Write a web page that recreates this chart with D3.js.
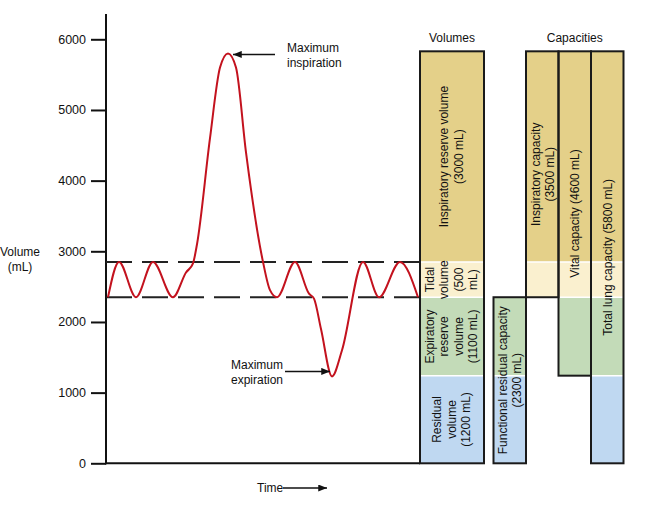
<!DOCTYPE html>
<html>
<head>
<meta charset="utf-8">
<script src="https://cdn.jsdelivr.net/npm/d3@7"></script>
<style>
  body { margin: 0; background: #fff; }
  svg { display: block; font-family: "Liberation Sans", Arial, Helvetica, sans-serif; }
</style>
</head>
<body>
<div id="chart"></div>
<script>
// spirogram trace (time in arbitrary units, volume in mL)
const traceTime   = [2, 13, 30, 47, 67, 80, 87, 91, 104, 114, 122, 130, 140, 157, 164, 171, 189, 203, 208, 215, 226, 236, 257, 273, 294, 312];
const traceVolume = [2350, 2850, 2350, 2850, 2350, 2700, 2830, 3100, 4600, 5600, 5800, 5600, 4400, 2850, 2450, 2350, 2850, 2400, 2330, 1900, 1230, 1600, 2850, 2350, 2850, 2350];

// end-tidal levels (dashed lines)
const tidalLevels = [2350, 2850];

const yTicks = [0, 1000, 2000, 3000, 4000, 5000, 6000];

// lung volumes, bottom to top (boundaries as drawn)
const volumeNames  = ["Residual volume", "Expiratory reserve volume", "Tidal volume", "Inspiratory reserve volume"];
const volumeBottom = [0, 1240, 2350, 2850];
const volumeTop    = [1240, 2350, 2850, 5830];
const volumeLabels = [
  ["Residual", "volume", "(1200 mL)"],
  ["Expiratory", "reserve", "volume", "(1100 mL)"],
  ["Tidal", "volume", "(500", "mL)"],
  ["Inspiratory reserve volume", "(3000 mL)"]
];

// capacities = sums of volumes (index ranges into the volume list)
const capacityNames  = ["Functional residual capacity", "Inspiratory capacity", "Vital capacity", "Total lung capacity"];
const capacityFrom   = [0, 2, 1, 0];
const capacityTo     = [1, 3, 3, 3];
const capacityLabels = [
  ["Functional residual capacity", "(2300 mL)"],
  ["Inspiratory capacity", "(3500 mL)"],
  ["Vital capacity (4600 mL)"],
  ["Total lung capacity (5800 mL)"]
];

const volumeColors = ["#bfd8f1", "#c3dbb8", "#faf0cf", "#e4d089"];

const W = 650, H = 507;
const svg = d3.select("#chart").append("svg")
  .attr("width", W).attr("height", H);

const x = d3.scaleLinear().domain([0, 314]).range([106, 420]);
const y = d3.scaleLinear().domain([0, 6000]).range([463.3, 39.3]);

// arrow marker
svg.append("defs").append("marker")
  .attr("id", "arr")
  .attr("viewBox", "0 0 10 8")
  .attr("refX", 10).attr("refY", 4)
  .attr("markerWidth", 10).attr("markerHeight", 7)
  .attr("markerUnits", "userSpaceOnUse")
  .attr("orient", "auto")
  .append("path")
  .attr("d", "M0,0L10,4L0,8Z")
  .attr("fill", "#111");

// Y axis
const yAxis = svg.append("g")
  .attr("transform", `translate(${x(0)},0)`)
  .call(d3.axisLeft(y).tickValues(yTicks).tickFormat(d3.format("d"))
    .tickSize(15).tickPadding(5).tickSizeOuter(0));
yAxis.select(".domain").remove();
yAxis.selectAll(".tick line").attr("stroke", "#111").attr("stroke-width", 2);
yAxis.selectAll(".tick text")
  .attr("font-size", 12.5)
  .attr("font-family", "Liberation Sans, Arial, sans-serif")
  .attr("fill", "#111");

svg.append("line")
  .attr("x1", x(0)).attr("x2", x(0))
  .attr("y1", 14).attr("y2", y(0) + 1)
  .attr("stroke", "#111").attr("stroke-width", 2);
svg.append("line")
  .attr("x1", x(0) - 1).attr("x2", 420)
  .attr("y1", y(0)).attr("y2", y(0))
  .attr("stroke", "#111").attr("stroke-width", 2);

// y label
svg.append("text")
  .attr("text-anchor", "middle").attr("font-size", 12).attr("fill", "#111")
  .selectAll("tspan").data(["Volume", "(mL)"]).join("tspan")
  .attr("x", 20).attr("y", (d, i) => 256 + i * 15)
  .text(d => d);

// dashed tidal lines
svg.selectAll(".tidal")
  .data(tidalLevels)
  .join("line")
  .attr("class", "tidal")
  .attr("x1", x(0)).attr("x2", 420)
  .attr("y1", d => y(d)).attr("y2", d => y(d))
  .attr("stroke", "#222").attr("stroke-width", 2)
  .attr("stroke-dasharray", "26,10");

// trace
const trace = d3.zip(traceTime, traceVolume);
svg.append("path")
  .datum(trace)
  .attr("fill", "none")
  .attr("stroke", "#c3121e")
  .attr("stroke-width", 2)
  .attr("d", d3.line().x(d => x(d[0])).y(d => y(d[1])).curve(d3.curveMonotoneX));

// annotations
const iPeak = traceVolume.indexOf(d3.max(traceVolume));
const iLow = traceVolume.indexOf(d3.min(traceVolume));

svg.append("line")
  .attr("x1", 275).attr("x2", x(traceTime[iPeak]) + 5)
  .attr("y1", y(traceVolume[iPeak]) + 1).attr("y2", y(traceVolume[iPeak]) + 1)
  .attr("stroke", "#111").attr("stroke-width", 1.5)
  .attr("marker-end", "url(#arr)");
svg.append("text")
  .attr("font-size", 12).attr("fill", "#111")
  .selectAll("tspan").data(["Maximum", "inspiration"]).join("tspan")
  .attr("x", 287).attr("y", (d, i) => 52 + i * 15)
  .text(d => d);

svg.append("line")
  .attr("x1", 285).attr("x2", x(traceTime[iLow]) - 2)
  .attr("y1", y(traceVolume[iLow]) - 5).attr("y2", y(traceVolume[iLow]) - 5)
  .attr("stroke", "#111").attr("stroke-width", 1.5)
  .attr("marker-end", "url(#arr)");
svg.append("text")
  .attr("font-size", 12).attr("fill", "#111")
  .selectAll("tspan").data(["Maximum", "expiration"]).join("tspan")
  .attr("x", 231).attr("y", (d, i) => 369 + i * 15)
  .text(d => d);

// time label
svg.append("text")
  .attr("x", 257).attr("y", 492)
  .attr("font-size", 12).attr("fill", "#111")
  .text("Time");
svg.append("line")
  .attr("x1", 283).attr("x2", 327)
  .attr("y1", 488).attr("y2", 488)
  .attr("stroke", "#111").attr("stroke-width", 1.5)
  .attr("marker-end", "url(#arr)");

// ---- bars ----
const volLeft = 420, volRight = 484;
const capLeft  = [493.5, 526, 558.5, 591];
const capRight = [526, 558.5, 591, 623.5];

// outlined columns: the volumes stack, then each capacity
const columns = [{ left: volLeft, right: volRight, from: 0, to: volumeNames.length - 1 }]
  .concat(capacityNames.map((n, c) => ({ left: capLeft[c], right: capRight[c], from: capacityFrom[c], to: capacityTo[c] })));

// text boxes: one per volume band, one per capacity
const labelBoxes = volumeNames.map((n, i) => ({ left: volLeft, right: volRight, from: i, to: i, lines: volumeLabels[i], dx: -0.5 }))
  .concat(capacityNames.map((n, c) => ({ left: capLeft[c], right: capRight[c], from: capacityFrom[c], to: capacityTo[c], lines: capacityLabels[c], dx: 0.5 })));

const fills = svg.append("g");
const seps = svg.append("g");
const outlines = svg.append("g");
const labels = svg.append("g");

columns.forEach(col => {
  const idx = d3.range(col.from, col.to + 1);
  fills.selectAll(null)
    .data(idx)
    .join("rect")
    .attr("x", col.left).attr("width", col.right - col.left)
    .attr("y", i => y(volumeTop[i]))
    .attr("height", i => y(volumeBottom[i]) - y(volumeTop[i]))
    .attr("fill", i => volumeColors[i]);
  // thin white separators between bands
  seps.selectAll(null)
    .data(idx.slice(1))
    .join("line")
    .attr("x1", col.left).attr("x2", col.right)
    .attr("y1", i => y(volumeBottom[i])).attr("y2", i => y(volumeBottom[i]))
    .attr("stroke", "#fff").attr("stroke-width", 1.5);
  outlines.append("rect")
    .attr("x", col.left).attr("width", col.right - col.left)
    .attr("y", y(volumeTop[col.to]))
    .attr("height", y(volumeBottom[col.from]) - y(volumeTop[col.to]))
    .attr("fill", "none").attr("stroke", "#1a1a1a").attr("stroke-width", 2);
});

labelBoxes.forEach(b => {
  const cx = (b.left + b.right) / 2 + b.dx;
  const cy = (y(volumeBottom[b.from]) + y(volumeTop[b.to])) / 2;
  const t = labels.append("text")
    .attr("transform", `translate(${cx},${cy}) rotate(-90)`)
    .attr("text-anchor", "middle")
    .attr("dominant-baseline", "central")
    .attr("font-size", 12).attr("fill", "#111");
  t.selectAll("tspan").data(b.lines).join("tspan")
    .attr("x", 0)
    .attr("y", (d, i) => (i - (b.lines.length - 1) / 2) * 14.2)
    .text(d => d);
});

// column titles
svg.append("text")
  .attr("x", (volLeft + volRight) / 2).attr("y", 42)
  .attr("text-anchor", "middle").attr("font-size", 12).attr("fill", "#111")
  .text("Volumes");
svg.append("text")
  .attr("x", (capLeft[1] + capRight[3]) / 2).attr("y", 42)
  .attr("text-anchor", "middle").attr("font-size", 12).attr("fill", "#111")
  .text("Capacities");
</script>
</body>
</html>
